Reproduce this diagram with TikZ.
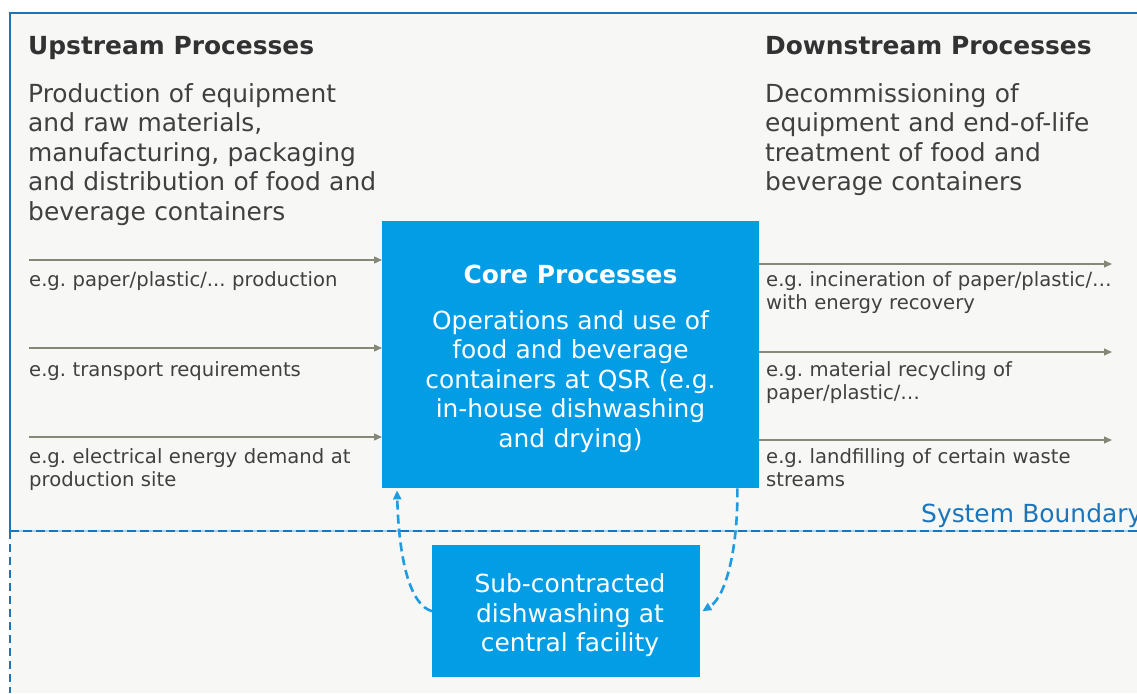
\documentclass[tikz,border=0pt]{standalone}
\usepackage{fontspec}
\setmainfont{DejaVu Sans}
\frenchspacing
\usetikzlibrary{arrows.meta,calc}
\definecolor{bggrey}{RGB}{247,247,246}
\definecolor{frameblue}{RGB}{26,117,187}
\definecolor{coreblue}{RGB}{3,157,230}
\definecolor{txt}{RGB}{64,64,64}
\definecolor{hdrtxt}{RGB}{50,50,50}
\definecolor{arrgrey}{RGB}{135,135,120}
\definecolor{dashblue}{RGB}{30,155,225}
\begin{document}
\begin{tikzpicture}[x=1pt,y=-1pt,
  big/.style={font=\frenchspacing\fontsize{24.9pt}{29.6pt}\selectfont, text=txt, inner sep=0pt, anchor=base west, text width=380pt, align=left},
  hdr/.style={font=\bfseries\fontsize{24.9pt}{29.6pt}\selectfont, text=hdrtxt, inner sep=0pt, anchor=base west},
  small/.style={font=\frenchspacing\fontsize{19.6pt}{23pt}\selectfont, text=txt, inner sep=0pt, anchor=base west, text width=370pt, align=left},
  flow/.style={draw=arrgrey, line width=1.4pt, -{Triangle[length=8pt,width=7pt]}},
  loopline/.style={draw=dashblue, line width=2.6pt, dash pattern=on 9pt off 5pt, -{Triangle[length=9pt,width=8pt]}},
  bluebox/.style={fill=coreblue, inner sep=0pt, anchor=north west},
  whitetext/.style={text=white, anchor=base, align=center, text width=360pt}
]
\useasboundingbox (0,0) rectangle (1137,693);
\clip (0,0) rectangle (1137,693);
% background and system boundary
\fill[white] (0,0) rectangle (1137,693);
\fill[bggrey] (10,13) rectangle (1137,693);
\draw[frameblue, line width=2pt] (10,531) -- (10,13) -- (1137,13);
\draw[frameblue!35, line width=1.2pt] (10,531) -- (1137,531);
\draw[frameblue, line width=2.2pt, dash pattern=on 9pt off 4pt] (10,531) -- (1137,531);
\draw[frameblue, line width=2.2pt, dash pattern=on 8pt off 5pt] (10,531) -- (10,693);
\node[big, text=frameblue, text width=300pt] (sysb) at (921,522) {System Boundary};

% headings
\node[hdr] (uph) at (28,55) {Upstream Processes};
\node[big] (upb) at (28,102) {Production of equipment\\and raw materials,\\manufacturing, packaging\\and distribution of food and\\beverage containers};
\node[hdr] (dnh) at (765,55) {Downstream Processes};
\node[big] (dnb) at (765,102) {Decommissioning of\\equipment and end-of-life\\treatment of food and\\beverage containers};

% core box
\node[bluebox, minimum width=377pt, minimum height=267pt] (core) at (382,221) {};
\node[hdr, text=white, anchor=base] (coret) at (570.5,283) {Core Processes};
\node[big, whitetext] (coreb) at (570.5,329) {Operations and use of\\food and beverage\\containers at QSR (e.g.\\in-house dishwashing\\and drying)};

% sub-contracted box
\node[bluebox, minimum width=268pt, minimum height=132pt] (sub) at (432,545) {};
\node[big, whitetext] (subt) at (570,592.7) {Sub-contracted\\dishwashing at\\central facility};

% upstream flows
\coordinate (u1) at (29,260);
\coordinate (u2) at (29,348);
\coordinate (u3) at (29,437);
\draw[flow] (u1) -- (u1 -| core.west);
\draw[flow] (u2) -- (u2 -| core.west);
\draw[flow] (u3) -- (u3 -| core.west);
\node[small] (ul1) at (29,286) {e.g. paper/plastic/... production};
\node[small] (ul2) at (29,376.5) {e.g. transport requirements};
\node[small] (ul3) at (29,463) {e.g. electrical energy demand at\\production site};

% downstream flows
\coordinate (d1) at (1112,264);
\coordinate (d2) at (1112,352);
\coordinate (d3) at (1112,440);
\draw[flow] (d1 -| core.east) -- (d1);
\draw[flow] (d2 -| core.east) -- (d2);
\draw[flow] (d3 -| core.east) -- (d3);
\node[small] (dl1) at (766,286) {e.g. incineration of paper/plastic/…\\with energy recovery};
\node[small] (dl2) at (766,376.5) {e.g. material recycling of\\paper/plastic/…};
\node[small] (dl3) at (766,463) {e.g. landfilling of certain waste\\streams};

% dashed loops
\draw[loopline] (sub.west) .. controls (410,605) and (399,560) .. ($(core.south west)+(15,2)$);
\draw[loopline] ($(core.south east)+(-22,0)$) .. controls (738,545) and (727,596) .. ($(sub.east)+(2,0)$);
\end{tikzpicture}
\end{document}
